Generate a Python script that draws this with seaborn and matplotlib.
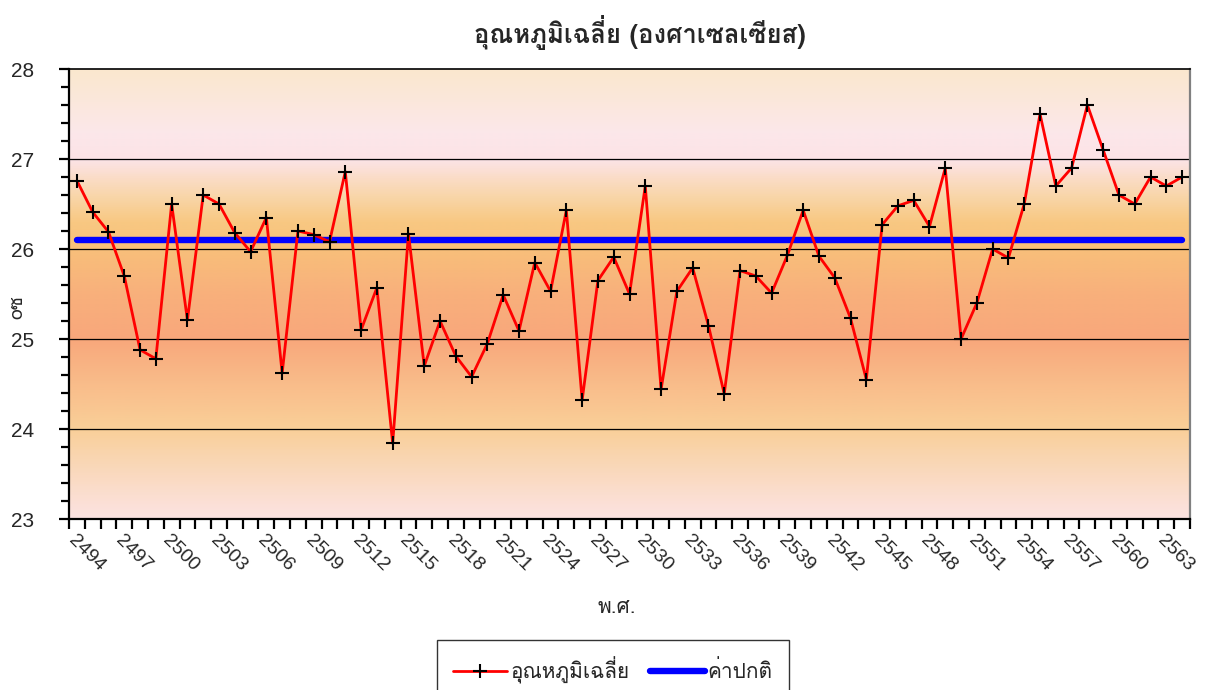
import numpy as np
import pandas as pd
import matplotlib
matplotlib.use("Agg")
import matplotlib.pyplot as plt
import seaborn as sns
from matplotlib import font_manager as fm
from matplotlib.colors import LinearSegmentedColormap

# ---------------- data ----------------
years = list(range(2494, 2565))
avg_temp = [26.76, 26.41, 26.19, 25.70, 24.88, 24.78, 26.50, 25.21, 26.60, 26.50,
            26.18, 25.97, 26.35, 24.62, 26.20, 26.16, 26.08, 26.86, 25.10, 25.57,
            23.84, 26.17, 24.70, 25.20, 24.81, 24.58, 24.95, 25.49, 25.09, 25.85,
            25.53, 26.43, 24.32, 25.65, 25.91, 25.50, 26.70, 24.44, 25.53, 25.79,
            25.15, 24.39, 25.76, 25.70, 25.51, 25.93, 26.43, 25.92, 25.68, 25.23,
            24.55, 26.27, 26.48, 26.54, 26.25, 26.90, 25.00, 25.40, 26.00, 25.90,
            26.50, 27.50, 26.70, 26.90, 27.60, 27.10, 26.60, 26.50, 26.80, 26.70,
            26.80]
normal_value = 26.10
normal = [normal_value] * len(years)
y_ticks = [23, 24, 25, 26, 27, 28]
title = "อุณหภูมิเฉลี่ย (องศาเซลเซียส)"
xlabel = "พ.ศ."
ylabel = "oซ"
series_names = ["อุณหภูมิเฉลี่ย", "ค่าปกติ"]

# ---------------- fonts ----------------
sns.set_theme(style="white")

def thai_fonts():
    found = []
    try:
        from fontTools.ttLib import TTFont
    except Exception:
        return found
    for f in fm.fontManager.ttflist:
        try:
            tt = TTFont(f.fname, fontNumber=0, lazy=True)
            cmap = tt.getBestCmap()
            if cmap and 0x0E2D in cmap and 0x0E38 in cmap and 0x0E13 in cmap:
                if f.name not in found:
                    found.append(f.name)
        except Exception:
            pass
    return found

tf = thai_fonts()
pref = ["Tahoma", "Loma", "Noto Sans Thai", "Noto Sans Thai UI", "Sarabun",
        "Garuda", "Leelawadee UI", "Leelawadee", "Arial Unicode MS"]
ordered = [p for p in pref if p in tf] + [f for f in tf if f not in pref]
families = ordered[:2] + ["DejaVu Sans"]
plt.rcParams["font.family"] = families
num_font = ["Liberation Sans", "DejaVu Sans"]

# ---------------- figure ----------------
fig = plt.figure(figsize=(12.14, 6.90), dpi=100)
ax = fig.add_axes([69 / 1214, 1 - 519 / 690, (1190 - 69) / 1214, (519 - 69) / 690])

x = np.arange(len(years))
ax.set_xlim(-0.5, len(years) - 0.5)
ax.set_ylim(y_ticks[0], y_ticks[-1])

# gradient background
stops = [(23.0, "#FCE3E2"), (23.5, "#FAD9BE"), (24.0, "#F9CF98"), (24.5, "#F9BC8A"),
         (25.0, "#F8A77B"), (25.5, "#F8B07C"), (26.0, "#F8BF7A"), (26.3, "#F8C882"),
         (26.6, "#F9D6AA"), (27.0, "#FCE3E6"), (27.3, "#FCE7EA"), (28.0, "#FAE8CE")]
lo, hi = y_ticks[0], y_ticks[-1]
cmap = LinearSegmentedColormap.from_list(
    "bg", [((v - lo) / (hi - lo), c) for v, c in stops])
grad = np.linspace(0, 1, 500).reshape(-1, 1)
ax.imshow(grad, cmap=cmap, aspect="auto", origin="lower",
          extent=(-0.5, len(years) - 0.5, lo, hi), zorder=0, interpolation="bilinear")

for yv in y_ticks[1:-1]:
    ax.axhline(yv, color="black", lw=0.9, zorder=1)

df = pd.DataFrame({"x": x, "avg": avg_temp, "normal": normal})
sns.lineplot(data=df, x="x", y="normal", ax=ax, color="#0000FF", lw=4.6,
             solid_capstyle="round", label=series_names[1], zorder=3)
sns.lineplot(data=df, x="x", y="avg", ax=ax, color="#FF0000", lw=2.0,
             marker="+", markersize=10, markeredgecolor="black",
             markerfacecolor="black", markeredgewidth=1.5,
             label=series_names[0], zorder=4)
ax.set_xlim(-0.5, len(years) - 0.5)
ax.set_ylim(lo, hi)

# spines
for s in ["left", "bottom"]:
    ax.spines[s].set_color("black")
    ax.spines[s].set_linewidth(1.6)
ax.spines["right"].set_color("#808080")
ax.spines["right"].set_linewidth(1.6)
ax.spines["top"].set_color("black")
ax.spines["top"].set_linewidth(1.2)

# y ticks
ax.set_yticks(y_ticks)
ax.set_yticklabels([str(t) for t in y_ticks], fontsize=15, family=num_font)
ax.set_yticks(np.arange(lo, hi + 0.001, 0.2), minor=True)
ax.tick_params(axis="y", which="major", direction="out", length=7, width=1.6,
               color="black", pad=18, left=True)
ax.tick_params(axis="y", which="minor", direction="out", length=6, width=1.6,
               color="black", left=True)

# x ticks: boundaries as minor ticks, labels every 3rd category
ax.set_xticks(np.arange(-0.5, len(years)), minor=True)
lab_idx = list(range(0, len(years), 3))
ax.set_xticks(lab_idx)
ax.set_xticklabels([str(years[i]) for i in lab_idx], rotation=-45, ha="left",
                   va="top", rotation_mode="anchor", fontsize=14, family=num_font)
ax.tick_params(axis="x", which="major", length=0, pad=9, bottom=True)
ax.tick_params(axis="x", which="minor", direction="out", length=7, width=1.6,
               color="black", bottom=True)

ax.set_xlabel(xlabel, fontsize=15, labelpad=4)
ax.xaxis.set_label_coords((617 - 69) / (1190 - 69), -0.175)
ax.set_ylabel(ylabel, fontsize=14, labelpad=2)
ax.yaxis.set_label_coords(-0.038, 0.47)

fig.text(640 / 1214, 1 - 33 / 690, title, ha="center", va="center",
         fontsize=18.5, fontweight="bold")

handles, labels = ax.get_legend_handles_labels()
order = [labels.index(series_names[0]), labels.index(series_names[1])]
leg = ax.legend([handles[i] for i in order], [labels[i] for i in order],
                loc="upper center", bbox_to_anchor=((613 - 69) / (1190 - 69), -0.245),
                ncol=2, frameon=True, fancybox=False, edgecolor="black",
                fontsize=15, handlelength=2.6, handletextpad=0.15,
                columnspacing=1.0, borderpad=0.8)
leg.get_frame().set_linewidth(1.0)

fig.savefig("out.png", dpi=100, facecolor="white")
